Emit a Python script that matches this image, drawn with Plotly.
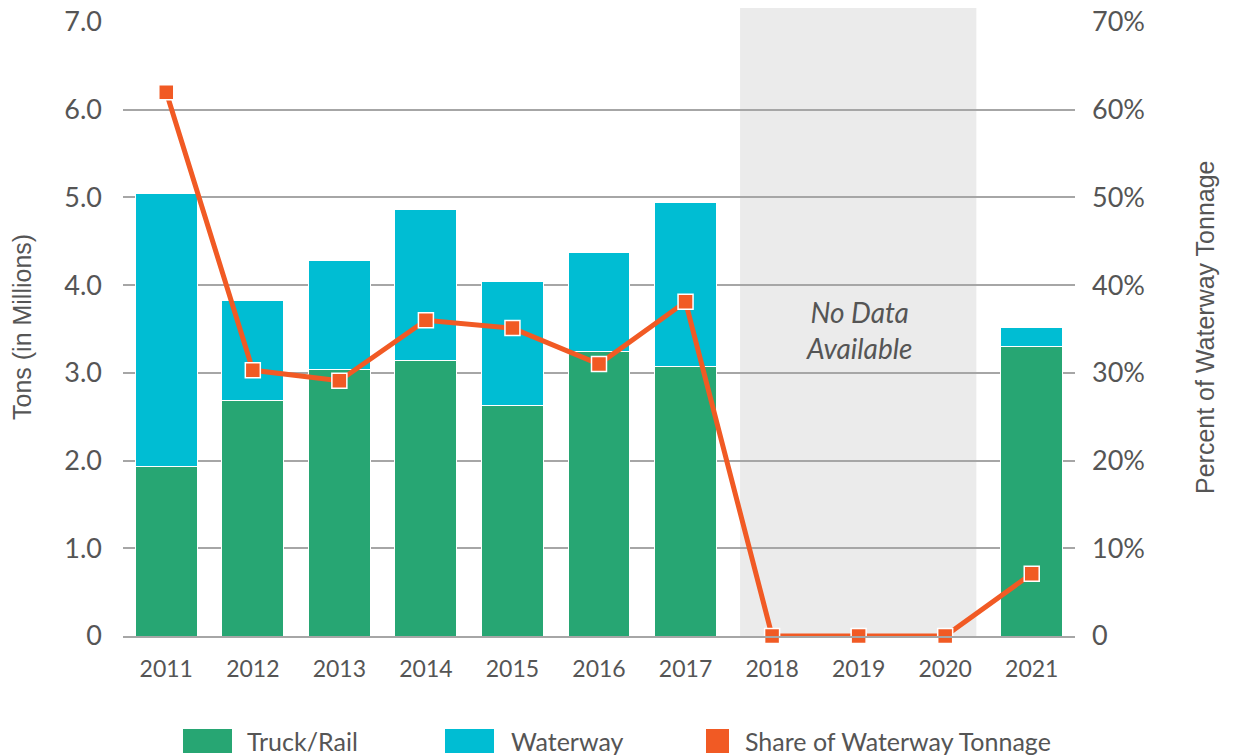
import plotly.graph_objects as go

years = ["2011", "2012", "2013", "2014", "2015", "2016", "2017", "2018", "2019", "2020", "2021"]
truck_rail = [1.93, 2.68, 3.04, 3.14, 2.63, 3.24, 3.07, None, None, None, 3.30]
waterway = [3.11, 1.14, 1.24, 1.72, 1.41, 1.13, 1.87, None, None, None, 0.22]
share = [0.62, 0.303, 0.291, 0.36, 0.351, 0.31, 0.381, 0.0, 0.0, 0.0, 0.071]

left_ticks = [0, 1, 2, 3, 4, 5, 6, 7]
left_labels = ["0", "1.0", "2.0", "3.0", "4.0", "5.0", "6.0", "7.0"]
right_ticks = [0, 0.1, 0.2, 0.3, 0.4, 0.5, 0.6, 0.7]
right_labels = ["0", "10%", "20%", "30%", "40%", "50%", "60%", "70%"]

GREEN = "#27a673"
CYAN = "#00bdd3"
ORANGE = "#f15a24"
TEXT = "#555555"
FONT = "Lato, 'Open Sans', sans-serif"
TITLE_FONT = "'Liberation Sans', Arial, sans-serif"

fig = go.Figure()
fig.add_trace(go.Bar(x=years, y=truck_rail, name="Truck/Rail",
                     marker=dict(color=GREEN, line=dict(color="white", width=1)), yaxis="y"))
fig.add_trace(go.Bar(x=years, y=waterway, name="Waterway",
                     marker=dict(color=CYAN, line=dict(color="white", width=1)), yaxis="y"))
fig.add_trace(go.Scatter(x=years, y=share, name="Share of Waterway Tonnage", mode="lines+markers",
                         line=dict(color=ORANGE, width=5), cliponaxis=False,
                         marker=dict(symbol="square", size=15, color=ORANGE, line=dict(color="white", width=1.5)),
                         yaxis="y2"))

L, R, T, B = 123, 1075, 22, 636
W, H = 1234, 756


def px(x):
    return (x - L) / (R - L)


def py(y):
    return (B - y) / (B - T)


shapes = [
    dict(type="rect", xref="x", yref="paper", x0=6.63, x1=9.36, y0=0, y1=py(8),
         fillcolor="#ebebeb", line=dict(width=0), layer="below"),
]
annotations = [
    dict(x=8, y=3.49, xref="x", yref="y", text="<i>No Data<br>Available</i>", showarrow=False,
         font=dict(family=FONT, size=28, color=TEXT), align="center"),
    dict(x=px(22), y=py(327), xref="paper", yref="paper", text="Tons (in Millions)", textangle=-90,
         xanchor="center", yanchor="middle",
         showarrow=False, font=dict(family=TITLE_FONT, size=25, color=TEXT)),
    dict(x=px(1205), y=py(327), xref="paper", yref="paper", text="Percent of Waterway Tonnage", textangle=-90,
         xanchor="center", yanchor="middle",
         showarrow=False, font=dict(family=TITLE_FONT, size=25, color=TEXT)),
]
# custom legend
legend_items = [
    (183, 232, GREEN, 245, "Truck/Rail"),
    (445, 494, CYAN, 509, "Waterway"),
    (706, 729, ORANGE, 743, "Share of Waterway Tonnage"),
]
for x0, x1, col, tx, label in legend_items:
    shapes.append(dict(type="rect", xref="paper", yref="paper", x0=px(x0), x1=px(x1), y0=py(753), y1=py(729),
                       fillcolor=col, line=dict(width=0)))
    annotations.append(dict(x=px(tx), y=py(741), xref="paper", yref="paper", text=label, showarrow=False,
                            xanchor="left", yanchor="middle", font=dict(family=FONT, size=25, color=TEXT)))

fig.update_layout(
    width=W, height=H,
    margin=dict(l=L, r=W - R, t=T, b=H - B, autoexpand=False),
    paper_bgcolor="white", plot_bgcolor="white",
    barmode="stack", bargap=0.285,
    showlegend=False,
    font=dict(family=FONT, color=TEXT),
    xaxis=dict(type="category", range=[-0.5, 10.5], showgrid=False, ticks="", automargin=False,
               ticklabelstandoff=12,
               tickfont=dict(size=23, color=TEXT), showline=True, linecolor="#a6a6a6", linewidth=1.5),
    yaxis=dict(range=[0, 7], tickvals=left_ticks, ticktext=left_labels, showgrid=True, automargin=False,
               gridcolor="#a6a6a6", gridwidth=1.5, zeroline=False, ticks="", ticklabelstandoff=20,
               tickfont=dict(size=27, color=TEXT)),
    yaxis2=dict(range=[0, 0.7], tickvals=right_ticks, ticktext=right_labels, overlaying="y", side="right",
                showgrid=False, zeroline=False, ticks="", ticklabelstandoff=16, automargin=False,
                tickfont=dict(size=27, color=TEXT)),
    shapes=shapes,
    annotations=annotations,
)

fig.write_html("out.html", config={"displayModeBar": False},
               post_script="document.body.style.margin='0';document.body.style.overflow='hidden';")
